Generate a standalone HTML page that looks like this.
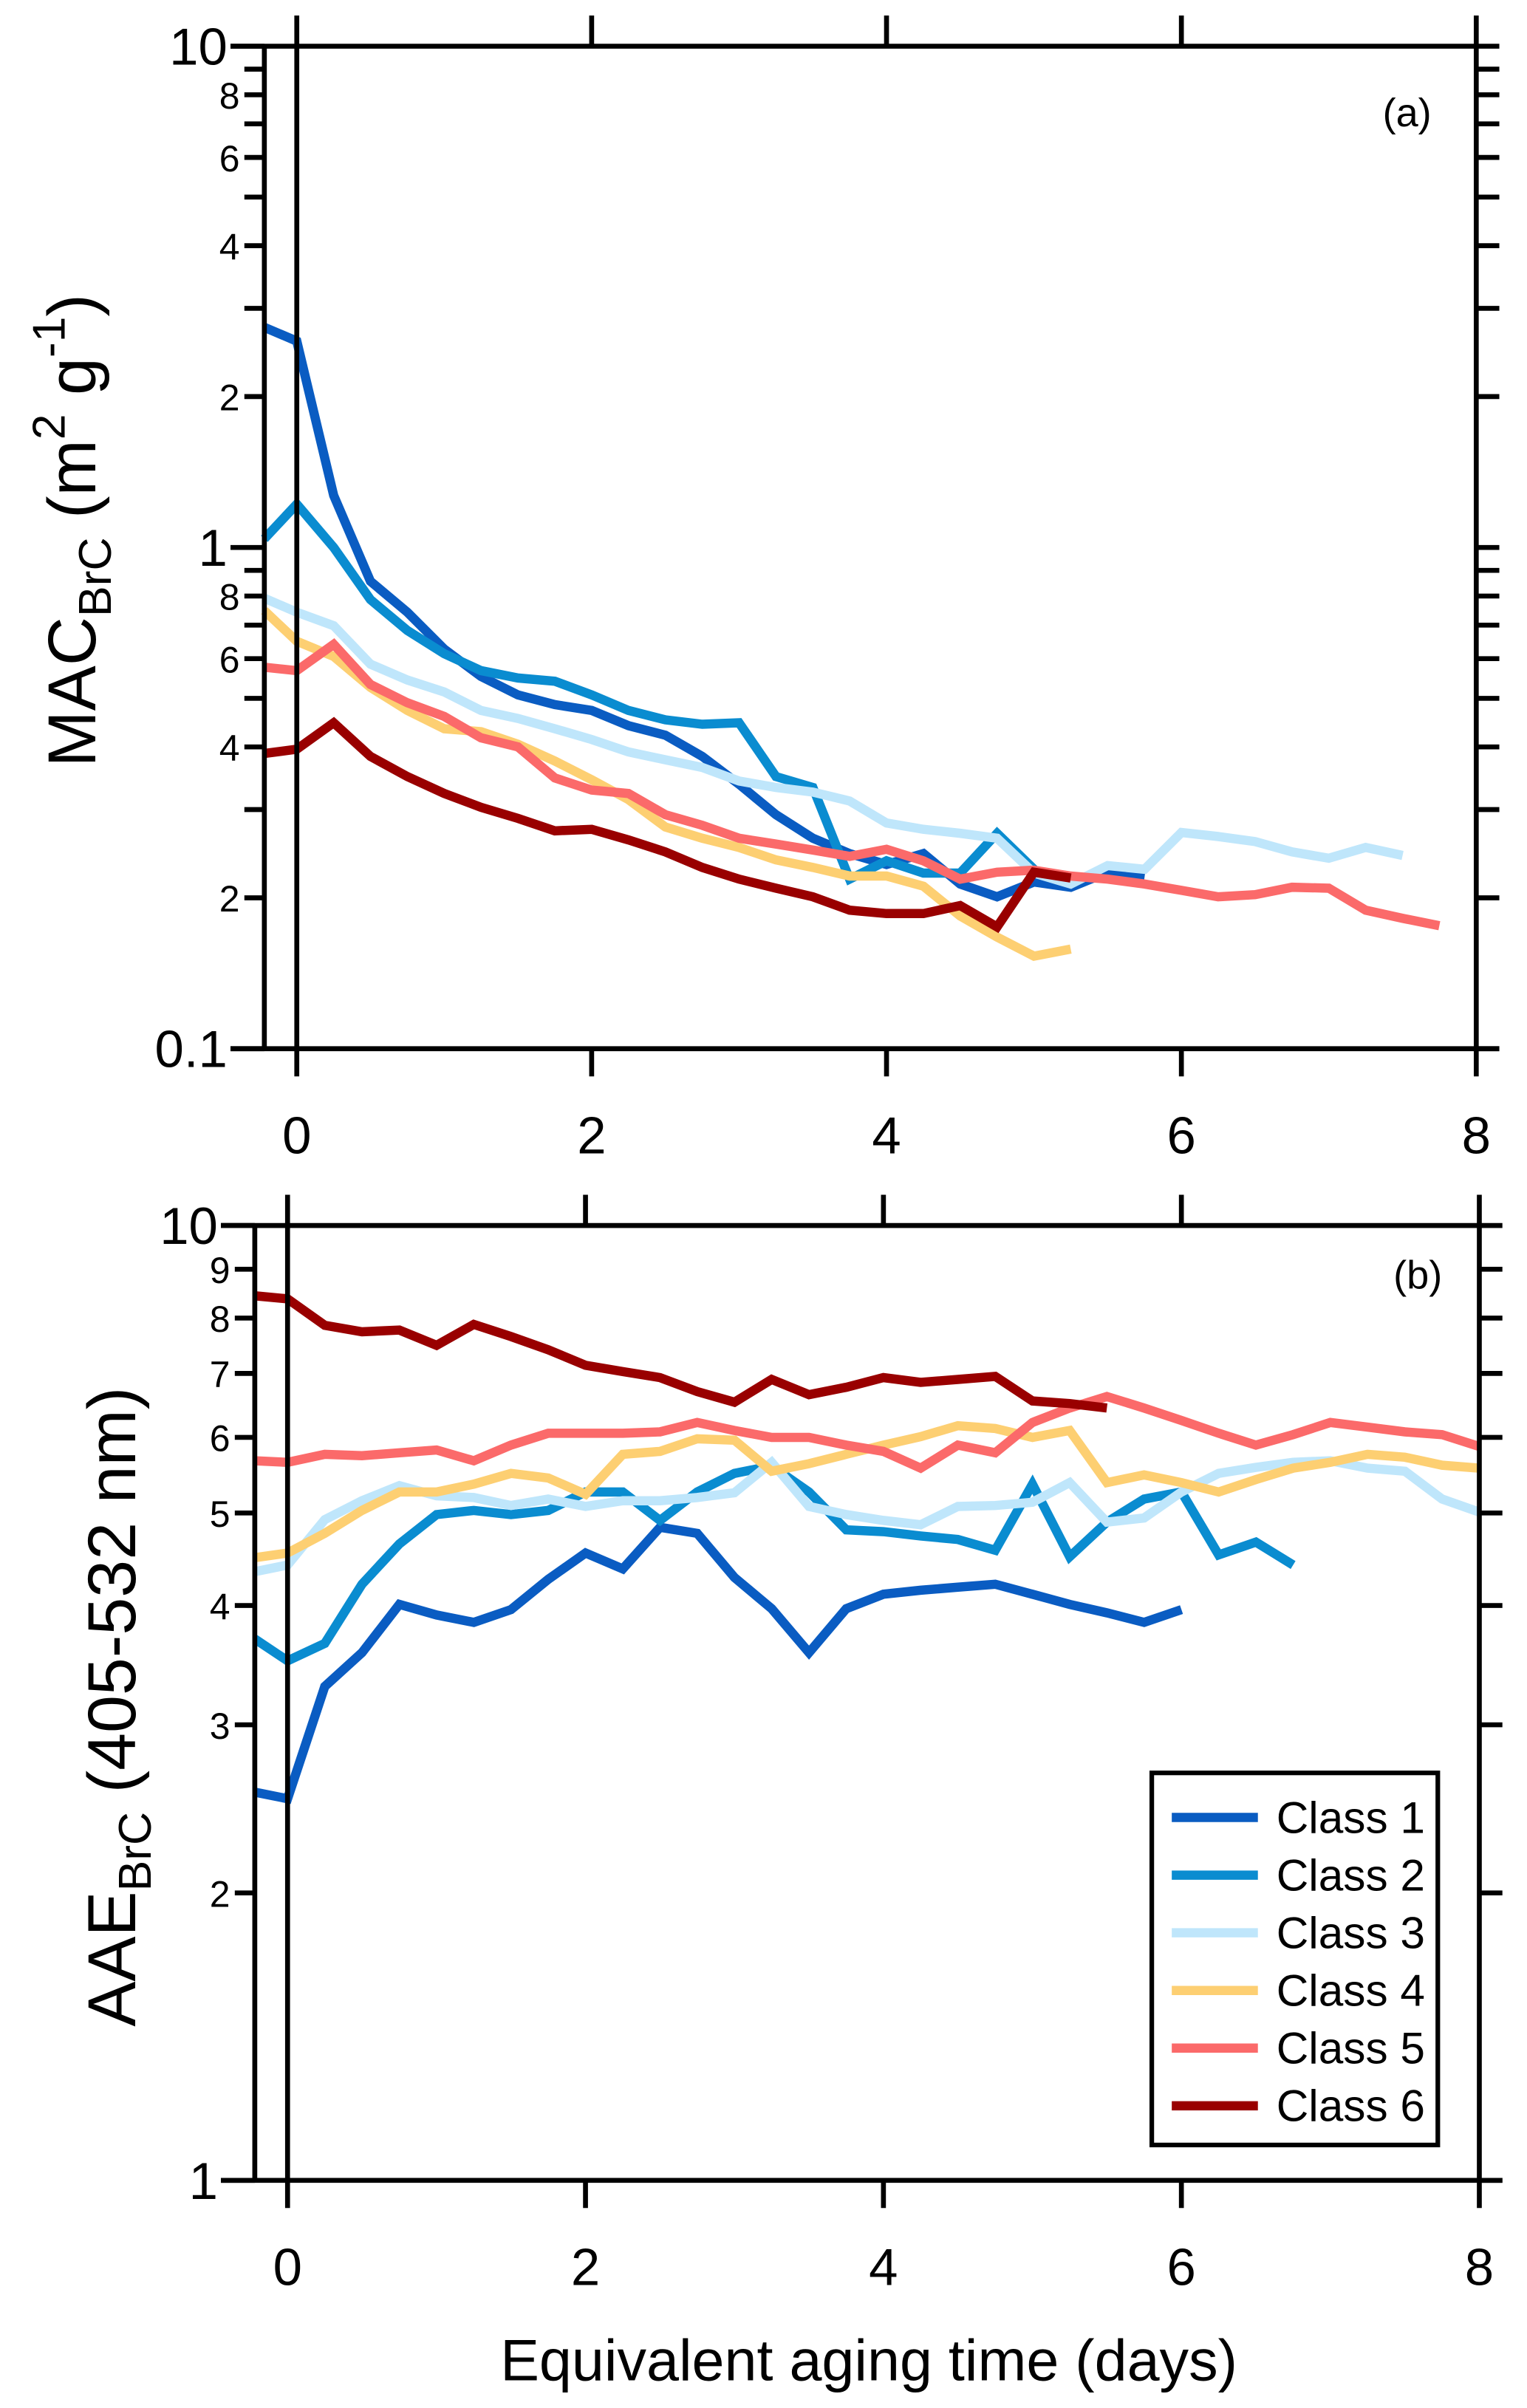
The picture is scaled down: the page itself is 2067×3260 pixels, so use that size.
<!DOCTYPE html>
<html><head><meta charset="utf-8"><style>
html,body{margin:0;padding:0;background:#fff;}
svg{display:block;font-family:"Liberation Sans",sans-serif;}
</style></head><body>
<svg id="chart" width="2067" height="3260" viewBox="0 0 993 1566" xmlns="http://www.w3.org/2000/svg">
<g id="pa"></g>
<g id="pb"></g>
<text x="915" y="82" font-size="26" text-anchor="middle">(a)</text>
<text x="922" y="838" font-size="26" text-anchor="middle">(b)</text>
<text transform="translate(62,345) rotate(-90)" font-size="44" text-anchor="middle">MAC<tspan font-size="30" dy="10">BrC</tspan><tspan dy="-10"> (m</tspan><tspan font-size="30" dy="-20">2</tspan><tspan dy="20"> g</tspan><tspan font-size="30" dy="-20">-1</tspan><tspan dy="20">)</tspan></text>
<text transform="translate(88,1110) rotate(-90)" font-size="44" text-anchor="middle">AAE<tspan font-size="30" dy="10">BrC</tspan><tspan dy="-10"> (405-532 nm)</tspan></text>
<text x="565" y="1548" font-size="38" text-anchor="middle">Equivalent aging time (days)</text>
<g>
<rect x="749" y="1153" width="186" height="242" fill="#fff" stroke="#000" stroke-width="3"/>
<g id="leg"></g>
</g>
</svg>
<script>
const colors=["#0a5cc2","#0a8cd0","#bfe6fb","#fdcf72","#fb6a6a","#990000"];
const classNames=["Class 1","Class 2","Class 3","Class 4","Class 5","Class 6"];
const xTicks=[0,2,4,6,8];
// Panel a (MAC)
const macC1=[2.75,2.58,1.27,0.856,0.743,0.627,0.553,0.508,0.486,0.473,0.441,0.422,0.383,0.337,0.293,0.263,0.245,0.233,0.245,0.213,0.201,0.215,0.21,0.225,0.22];
const macC2=[1.04,1.22,1.0,0.787,0.683,0.614,0.568,0.549,0.541,0.508,0.473,0.453,0.444,0.447,0.349,0.332,0.218,0.237,0.224,0.224,0.269,0.228];
const macC3=[0.792,0.743,0.698,0.585,0.544,0.515,0.473,0.456,0.435,0.414,0.391,0.377,0.364,0.342,0.332,0.325,0.312,0.282,0.274,0.269,0.263,0.224,0.213,0.232,0.228,0.27,0.265,0.259,0.247,0.24,0.252,0.243];
const macC4=[0.748,0.65,0.606,0.526,0.473,0.435,0.429,0.405,0.375,0.344,0.314,0.277,0.263,0.252,0.238,0.230,0.221,0.221,0.211,0.184,0.167,0.153,0.158];
const macC5=[0.577,0.568,0.641,0.533,0.49,0.46,0.417,0.40,0.347,0.328,0.323,0.293,0.279,0.263,0.256,0.249,0.242,0.25,0.237,0.218,0.225,0.227,0.221,0.218,0.213,0.207,0.201,0.203,0.21,0.209,0.189,0.182,0.176];
const macC6=[0.388,0.396,0.447,0.383,0.349,0.323,0.303,0.288,0.272,0.274,0.261,0.247,0.230,0.218,0.209,0.201,0.189,0.186,0.186,0.193,0.175,0.225,0.219];
// Panel b (AAE)
const aaeC1=[2.55,2.51,3.29,3.57,4.01,3.91,3.84,3.96,4.26,4.54,4.37,4.83,4.76,4.28,3.97,3.57,3.97,4.11,4.15,4.18,4.21,4.11,4.01,3.93,3.84,3.96];
const aaeC2=[3.69,3.50,3.65,4.21,4.64,4.98,5.03,4.98,5.03,5.26,5.26,4.91,5.26,5.50,5.60,5.26,4.80,4.78,4.73,4.69,4.57,5.36,4.50,4.89,5.17,5.26,4.52,4.66,4.41];
const aaeC3=[4.34,4.41,4.92,5.15,5.34,5.21,5.19,5.09,5.17,5.08,5.15,5.15,5.19,5.25,5.65,5.08,4.98,4.91,4.86,5.08,5.09,5.13,5.38,4.89,4.94,5.26,5.50,5.58,5.65,5.67,5.57,5.53,5.17,5.01];
const aaeC4=[4.49,4.54,4.76,5.03,5.26,5.26,5.36,5.50,5.44,5.23,5.76,5.80,5.98,5.96,5.53,5.63,5.76,5.89,6.01,6.17,6.13,6.0,6.10,5.38,5.48,5.38,5.26,5.42,5.57,5.65,5.76,5.72,5.61,5.57];
const aaeC5=[5.67,5.65,5.76,5.74,5.78,5.82,5.67,5.89,6.06,6.06,6.06,6.08,6.22,6.10,6.0,6.0,5.89,5.80,5.57,5.89,5.78,6.22,6.44,6.62,6.44,6.25,6.06,5.89,6.04,6.22,6.15,6.08,6.04,5.87];
const aaeC6=[8.44,8.38,7.86,7.74,7.77,7.49,7.88,7.65,7.41,7.14,7.03,6.93,6.70,6.53,6.90,6.65,6.77,6.93,6.85,6.90,6.95,6.55,6.51,6.44];
const step=0.25, x0=-0.22;
const NS="http://www.w3.org/2000/svg";
function mk(tag,attrs,parent){const e=document.createElementNS(NS,tag);for(const k in attrs)e.setAttribute(k,attrs[k]);parent.appendChild(e);return e;}
function xOf(i){return i===0?x0:(i-1)*step;}
function panel(g,cfg,series,name){
  const X=d=>cfg.x0px+d*cfg.xs;
  const Y=v=>cfg.y1-cfg.dec*Math.log10(v);
  const L=X(x0), R=X(8), T=cfg.ytop, B=cfg.ybot;
  series.forEach((s,k)=>{
    const pts=s.map((v,i)=>X(xOf(i)).toFixed(1)+","+Y(v).toFixed(1)).join(" ");
    const p=mk("polyline",{points:pts,fill:"none",stroke:colors[k],"stroke-width":6,"stroke-linejoin":"miter"},g);
    
    
  });
  const ax=mk("g",{},g);
  
  
  const st={stroke:"#000","stroke-width":3.2};
  mk("line",Object.assign({x1:L-22,y1:T,x2:R+15,y2:T},st),ax);
  mk("line",Object.assign({x1:L-22,y1:B,x2:R+15,y2:B},st),ax);
  mk("line",Object.assign({x1:L,y1:T,x2:L,y2:B},st),ax);
  xTicks.forEach(t=>{
    if(t===0||t===8){
      mk("line",Object.assign({x1:X(t),y1:T-20,x2:X(t),y2:B+18},st),ax);
    } else {
      mk("line",Object.assign({x1:X(t),y1:T-20,x2:X(t),y2:T},st),ax);
      mk("line",Object.assign({x1:X(t),y1:B,x2:X(t),y2:B+18},st),ax);
    }
    const tx=mk("text",{x:X(t),y:B+68,"font-size":34,"text-anchor":"middle"},ax);
    tx.textContent=t;
    
    
  });
  cfg.decades.forEach((d,di)=>{
    for(let m=1;m<=9;m++){
      const v=d*m, y=Y(v);
      const major=m===1;
      mk("line",Object.assign({x1:L-(major?22:13),y1:y,x2:L,y2:y},st),ax);
      mk("line",Object.assign({x1:R,y1:y,x2:R+15,y2:y},st),ax);
      const lab=cfg.minorLabels.includes(m);
      if(major||lab){
        const tx=mk("text",{x:L-(major?24:16),y:y+(major?12:9),"font-size":major?34:24,"text-anchor":"end"},ax);
        tx.textContent=major?cfg.majorText[di]:m;
        
        
      }
    }
  });
  const t=Y(cfg.decades[cfg.decades.length-1]*10);
  mk("line",Object.assign({x1:L-22,y1:t,x2:L,y2:t},st),ax);
  const tx=mk("text",{x:L-24,y:t+12,"font-size":34,"text-anchor":"end"},ax);
  tx.textContent="10";
}
panel(document.getElementById("pa"),{x0px:193,xs:95.875,y1:356,dec:326,ytop:30,ybot:682,decades:[0.1,1],majorText:["0.1","1"],minorLabels:[2,4,6,8]},[macC1,macC2,macC3,macC4,macC5,macC6],"panel-a");
panel(document.getElementById("pb"),{x0px:187,xs:96.875,y1:1418,dec:621,ytop:797,ybot:1418,decades:[1],majorText:["1"],minorLabels:[2,3,4,5,6,7,8,9]},[aaeC1,aaeC2,aaeC3,aaeC4,aaeC5,aaeC6],"panel-b");
const leg=document.getElementById("leg");
classNames.forEach((n,k)=>{
  const y=1182+k*37.5;
  const g=mk("g",{},leg);
  
  
  mk("line",{x1:762,y1:y,x2:818,y2:y,stroke:colors[k],"stroke-width":6},g);
  const t=mk("text",{x:830,y:y+10,"font-size":29},g);
  t.textContent=n;
});
</script>
</body></html>
